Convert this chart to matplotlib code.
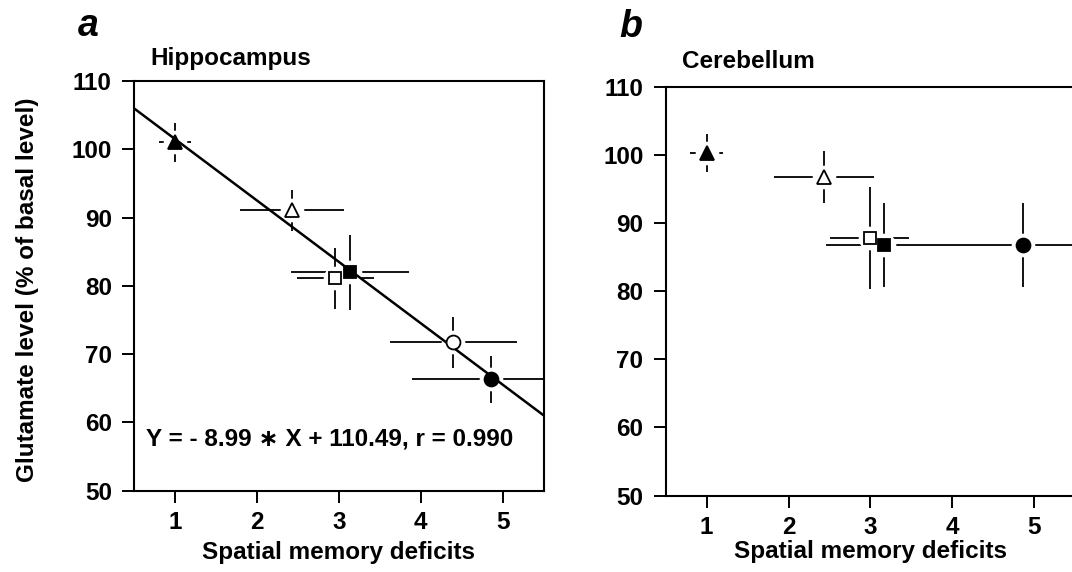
import numpy as np
import matplotlib
matplotlib.use('Agg')
import matplotlib.pyplot as plt

plt.rcParams.update({
    'font.family': ['Liberation Sans', 'DejaVu Sans'],
    'font.weight': 'bold',
    'font.size': 17,
    'axes.linewidth': 1.5,
    'xtick.major.width': 1.4,
    'ytick.major.width': 1.4,
    'xtick.major.size': 8.5,
    'ytick.major.size': 9,
    'xtick.major.pad': 6,
    'ytick.major.pad': 7,
})

# ---- Data ----
# groups: filled triangle, open triangle, open square, filled square, open circle, filled circle
markers = ['^', '^', 's', 's', 'o', 'o']
filled = [True, False, False, True, False, True]
msizes = [10, 10, 9, 9, 10, 10]

hip_x = [1.00, 2.43, 2.96, 3.14, 4.40, 4.86]
hip_xerr = [0.20, 0.64, 0.47, 0.72, 0.78, 0.97]
hip_y = [101.0, 91.1, 81.1, 82.0, 71.7, 66.3]
hip_yerr = [2.8, 3.0, 4.5, 5.5, 3.7, 3.4]

# cerebellum: no open-circle group shown
cer_idx = [0, 1, 2, 3, 5]
cer_x = [1.00, 2.43, 2.99, 3.17, 4.86]
cer_xerr = [0.20, 0.61, 0.48, 0.71, 0.97]
cer_y = [100.4, 96.8, 87.8, 86.8, 86.8]
cer_yerr = [2.8, 3.85, 7.5, 6.2, 6.2]

slope, intercept, r_val = -8.99, 110.49, 0.990

xticks = [1, 2, 3, 4, 5]
yticks = [50, 60, 70, 80, 90, 100, 110]


def draw_points(ax, xs, xerr, ys, yerr, idx, fit=None):
    for x, xe, y, ye in zip(xs, xerr, ys, yerr):
        ax.errorbar(x, y, xerr=xe, yerr=ye, fmt='none', ecolor='black',
                    elinewidth=1.3, capsize=0, zorder=2)
    # white halo breaks the error bars round each marker
    for x, y in zip(xs, ys):
        ax.plot(x, y, 'o', ms=17, mfc='white', mec='none', zorder=3)
    if fit is not None:
        fx = np.array(ax.get_xlim())
        ax.plot(fx, fit[0] * fx + fit[1], color='black', lw=1.8, zorder=4)
    for x, y, i in zip(xs, ys, idx):
        ax.plot(x, y, markers[i], ms=msizes[i],
                mfc='black' if filled[i] else 'white', mec='black', mew=1.3, zorder=5)


def style_axis(ax, title, title_y, labelpad):
    ax.set_xlim(0.5, 5.5)
    ax.set_ylim(50, 110)
    ax.set_xticks(xticks)
    ax.set_yticks(yticks)
    ax.tick_params(labelsize=17.5)
    for lbl in ax.get_xticklabels() + ax.get_yticklabels():
        lbl.set_fontweight('bold')
    ax.set_xlabel('Spatial memory deficits', fontsize=17.5, fontweight='bold',
                  labelpad=labelpad)
    ax.text(0.04, title_y, title, transform=ax.transAxes, fontsize=17.5,
            fontweight='bold', ha='left', va='center')


fig = plt.figure(figsize=(10.72, 5.72), dpi=100)
ax1 = fig.add_axes([0.125, 0.1422, 0.382, 0.7162])
ax2 = fig.add_axes([0.621, 0.1337, 0.382, 0.7136])

style_axis(ax1, 'Hippocampus', 1.055, 5)
draw_points(ax1, hip_x, hip_xerr, hip_y, hip_yerr, range(6), fit=(slope, intercept))
ax1.set_ylabel('Glutamate level (% of basal level)', fontsize=17.5, fontweight='bold')
ax1.yaxis.set_label_coords(-0.231, 0.49)
ax1.text(0.03, 0.127, f'Y = - {abs(slope):.2f} \u2217 X + {intercept:.2f}, r = {r_val:.3f}',
         transform=ax1.transAxes, fontsize=17.5, fontweight='bold', ha='left', va='center')

style_axis(ax2, 'Cerebellum', 1.064, 1)
draw_points(ax2, cer_x, cer_xerr, cer_y, cer_yerr, cer_idx)

fig.text(0.073, 0.955, 'a', fontsize=27, fontweight='bold', style='italic', va='center')
fig.text(0.578, 0.952, 'b', fontsize=27, fontweight='bold', style='italic', va='center')

fig.savefig('out.png', dpi=100)
